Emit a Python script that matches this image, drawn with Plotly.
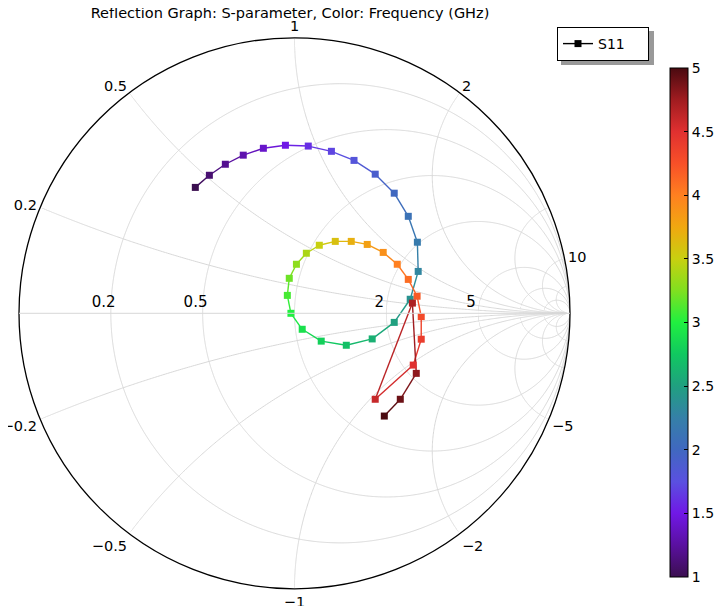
import numpy as np
import plotly.graph_objects as go
from plotly.colors import sample_colorscale

# frequency sweep (GHz)
freq = [1.0, 1.1, 1.2, 1.3, 1.4, 1.5, 1.6, 1.7, 1.8, 1.9,
        2.0, 2.1, 2.2, 2.3, 2.4, 2.5, 2.6, 2.7, 2.8, 2.9,
        3.0, 3.1, 3.2, 3.3, 3.4, 3.5, 3.6, 3.7, 3.8, 3.9,
        4.0, 4.1, 4.2, 4.3, 4.4, 4.5, 4.6, 4.7, 4.8, 4.9, 5.0]

# S11 (reflection coefficient)
s11_re = [-0.360, -0.309, -0.251, -0.186, -0.113, -0.033, 0.050, 0.134, 0.216, 0.293,
          0.362, 0.413, 0.446, 0.449, 0.420, 0.362, 0.282, 0.188, 0.097, 0.028,
          -0.013, -0.026, -0.019, 0.007, 0.043, 0.090, 0.148, 0.206, 0.264, 0.322,
          0.373, 0.413, 0.445, 0.460, 0.460, 0.431, 0.293, 0.428, 0.442, 0.384, 0.326]
s11_im = [0.457, 0.501, 0.541, 0.574, 0.599, 0.610, 0.607, 0.588, 0.555, 0.505,
          0.436, 0.352, 0.258, 0.152, 0.051, -0.033, -0.093, -0.116, -0.101, -0.058,
          0.000, 0.065, 0.127, 0.178, 0.218, 0.247, 0.261, 0.261, 0.250, 0.221,
          0.178, 0.123, 0.062, -0.012, -0.094, -0.188, -0.312, 0.037, -0.218, -0.312, -0.373]

# grid circles / arcs
grid_r = [0.2, 0.5, 1, 2, 5, 10, 20]
grid_x = [0.2, 0.5, 1, 2, 5, 10, 20, -0.2, -0.5, -1, -2, -5, -10, -20]
# labelled values
label_r = [0.2, 0.5, 2, 5]
label_x = [0.2, 0.5, 1, 2, 10, -0.2, -0.5, -1, -2, -5]
cbar_ticks = [1, 1.5, 2, 2.5, 3, 3.5, 4, 4.5, 5]

colorscale = [
    [0.0, "#3b0f50"], [0.0625, "#5a10a0"], [0.125, "#7018e6"], [0.1875, "#5a50e0"],
    [0.25, "#4068c0"], [0.3125, "#3580a8"], [0.375, "#20a080"], [0.4375, "#10c860"],
    [0.5, "#20f040"], [0.5625, "#80e020"], [0.625, "#c8d010"], [0.6875, "#f0a810"],
    [0.75, "#ff8020"], [0.8125, "#f85028"], [0.875, "#e03030"], [0.9375, "#a01c20"],
    [1.0, "#4a0a10"],
]

W, H = 727, 606
OFF = 8  # page margin around the plot div


def px(x):
    return (x - OFF) / W


def py(y):
    return 1 - (y - OFF) / H


gamma = np.array(s11_re) + 1j * np.array(s11_im)
z = (1 + gamma) / (1 - gamma)
fmin, fmax = 1.0, 5.0
GRID = "#d8d8d8"

fig = go.Figure()

# full grid circles, drawn through the smith mapping
sweep = np.tan(np.linspace(-np.pi / 2 + 1e-5, np.pi / 2 - 1e-5, 1500))
for r in grid_r:
    fig.add_trace(go.Scattersmith(real=np.full_like(sweep, r), imag=sweep, mode="lines",
                                  line=dict(color=GRID, width=1), showlegend=False, hoverinfo="skip"))
res = np.concatenate([[0.0], np.geomspace(1e-3, 1e6, 1200)])
for x in grid_x:
    fig.add_trace(go.Scattersmith(real=res, imag=np.full_like(res, x), mode="lines",
                                  line=dict(color=GRID, width=1), showlegend=False, hoverinfo="skip"))

# line segments, each coloured by its mid frequency
for i in range(len(freq) - 1):
    fm = (freq[i] + freq[i + 1]) / 2
    col = sample_colorscale(colorscale, [(fm - fmin) / (fmax - fmin)])[0]
    fig.add_trace(go.Scattersmith(real=z.real[i:i + 2], imag=z.imag[i:i + 2], mode="lines",
                                  line=dict(color=col, width=1.4),
                                  showlegend=False, hoverinfo="skip"))

fig.add_trace(go.Scattersmith(
    real=z.real, imag=z.imag, mode="markers", showlegend=False,
    marker=dict(symbol="square", size=7, color=freq, colorscale=colorscale,
                cmin=fmin, cmax=fmax, showscale=True,
                colorbar=dict(x=px(670), xanchor="left", xpad=0, ypad=0,
                              y=py(322.5), yanchor="middle",
                              len=509 / H, lenmode="fraction", thickness=18,
                              outlinecolor="black", outlinewidth=1,
                              tickvals=cbar_ticks, ticks="inside", ticklen=4,
                              tickcolor="black", tickfont=dict(size=14, color="black"))),
))

# legend entry only
fig.add_trace(go.Scattersmith(real=[np.nan], imag=[np.nan], mode="lines+markers",
                              name="S11\u00a0\u00a0\u00a0\u00a0",
                              line=dict(color="black", width=1.4),
                              marker=dict(symbol="square", size=7, color="black")))

fig.update_layout(
    width=W, height=H,
    margin=dict(l=0, r=0, t=0, b=0),
    paper_bgcolor="white",
    font=dict(family="DejaVu Sans", size=14, color="black"),
    title=dict(text="Reflection Graph: S-parameter, Color: Frequency (GHz)",
               x=px(290), xanchor="center", y=1.0, yanchor="top", yref="container",
               pad=dict(t=0, b=0), font=dict(size=14.5, color="black")),
    smith=dict(
        domain=dict(x=[px(19), px(570)], y=[py(588.8), py(37.8)]),
        bgcolor="white",
        realaxis=dict(tickvals=label_r, showgrid=False,
                      linecolor=GRID, tickangle=0, ticks="",
                      ticksuffix="\u00a0\u00a0\u00a0",
                      tickfont=dict(size=15, color="black")),
        imaginaryaxis=dict(tickvals=label_x, showgrid=False,
                           linecolor="black", linewidth=1.3, ticks="",
                           tickfont=dict(size=14.5, color="black")),
    ),
    legend=dict(x=px(557), xanchor="left", y=py(27), yanchor="top",
                bgcolor="white", bordercolor="black", borderwidth=1,
                font=dict(size=14, color="black")),
    shapes=[
        # legend drop shadow
        dict(type="rect", xref="paper", yref="paper",
             x0=px(561), x1=px(654), y0=py(65), y1=py(31),
             fillcolor="#999999", line=dict(width=0), layer="below"),
        # hide the automatic infinity label at the right end of the real axis
        dict(type="rect", xref="paper", yref="paper",
             x0=px(574), x1=px(602), y0=py(327), y1=py(299),
             fillcolor="white", line=dict(width=0), layer="above"),
    ],
)

fig.write_html("out.html")
